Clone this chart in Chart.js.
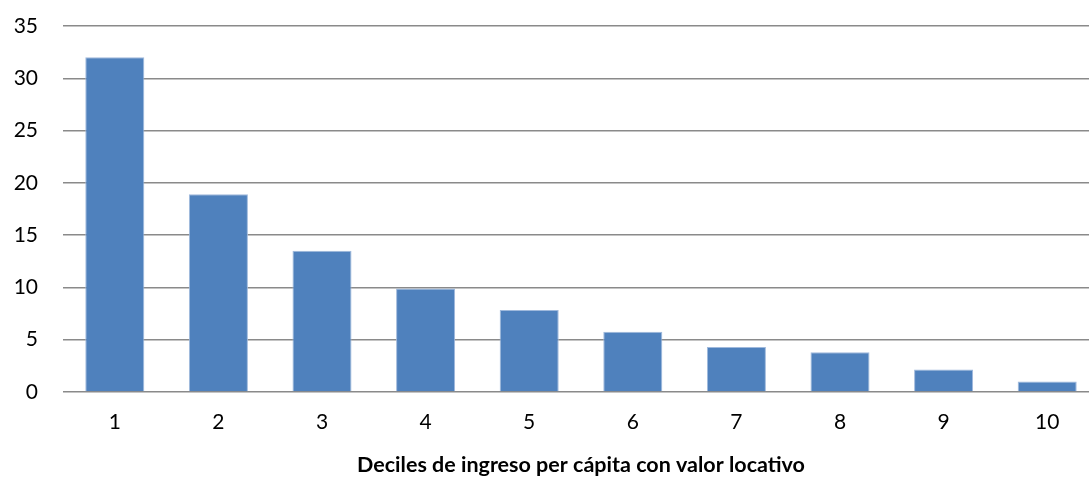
<!DOCTYPE html>
<html>
<head>
<meta charset="utf-8">
<script src="https://cdn.jsdelivr.net/npm/chart.js@4"></script>
<style>
    html, body { margin: 0; padding: 0; background: #fff; overflow: hidden; }
    /* the original picture is cropped on the right, so the chart is a bit wider than the window */
    #wrap { width: 1099px; height: 478px; position: relative; }
</style>
</head>
<body>
<div id="wrap"><canvas id="decilesChart"></canvas></div>
<script>
// Data
const DECILES = ['1', '2', '3', '4', '5', '6', '7', '8', '9', '10'];
const VALUES = [32.0, 18.9, 13.5, 9.9, 7.85, 5.75, 4.3, 3.8, 2.15, 1.0];
const Y_TICKS = [0, 5, 10, 15, 20, 25, 30, 35];
const X_TITLE = 'Deciles de ingreso per cápita con valor locativo';

const BAR_COLOR = '#4F81BD';
const GRID_COLOR = '#8a8a8a';
const FONT = "Lato, 'Open Sans', sans-serif";

const ctx = document.getElementById('decilesChart').getContext('2d');
new Chart(ctx, {
    type: 'bar',
    data: {
        labels: DECILES,
        datasets: [{
            data: VALUES,
            backgroundColor: BAR_COLOR,
            borderColor: '#9fb9dc',
            borderWidth: 1,
            barPercentage: 0.57,
            categoryPercentage: 1.0
        }]
    },
    options: {
        responsive: true,
        maintainAspectRatio: false,
        animation: false,
        layout: { padding: { top: 26, right: 0, left: 0, bottom: 0 } },
        plugins: {
            legend: { display: false },
            tooltip: { enabled: false }
        },
        scales: {
            x: {
                grid: { display: false, drawTicks: false },
                border: { display: false },
                ticks: {
                    color: '#000',
                    padding: 18,
                    font: { family: FONT, size: 21 }
                },
                title: {
                    display: true,
                    text: X_TITLE,
                    color: '#000',
                    padding: { top: 12, bottom: 0 },
                    font: { family: FONT, size: 21.5, weight: 'bold' }
                },
                afterFit: axis => { axis.height = 86; }
            },
            y: {
                min: 0,
                max: 35,
                afterBuildTicks: axis => {
                    axis.ticks = Y_TICKS.map(v => ({ value: v }));
                },
                grid: {
                    color: GRID_COLOR,
                    lineWidth: 1.5,
                    drawTicks: false
                },
                border: { display: false },
                ticks: {
                    color: '#000',
                    padding: 25,
                    font: { family: FONT, size: 21 }
                },
                afterFit: axis => {
                    axis.width = 63;
                    axis.paddingTop = 0; // top of plot comes from layout padding only
                }
            }
        }
    }
});
</script>
</body>
</html>
